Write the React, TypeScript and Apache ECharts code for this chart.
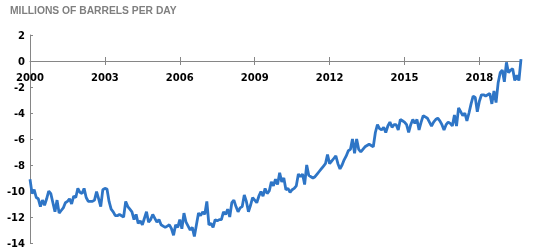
import React, { useEffect, useRef } from "react";
import * as echarts from "echarts";

const title = "MILLIONS OF BARRELS PER DAY";
const startYear = 2000;
const yTicks = { min: -14, max: 2, interval: 2 };

const v2000 = [-9.1, -10.2, -9.9, -10.5, -10.6, -11.2, -10.7, -11.1, -10.6, -10.0, -10.2, -10.9];
const v2001 = [-11.6, -10.7, -11.7, -11.5, -11.3, -10.9, -10.8, -10.6, -11.0, -10.4, -10.5, -9.8];
const v2002 = [-10.1, -10.2, -9.8, -10.5, -10.8, -10.8, -10.8, -10.7, -10.05, -10.6, -11.2, -9.9];
const v2003 = [-9.8, -9.85, -10.8, -11.4, -11.6, -11.9, -11.9, -11.8, -11.9, -12.0, -10.8, -11.2];
const v2004 = [-11.4, -11.6, -12.2, -11.8, -12.5, -12.3, -12.6, -12.1, -11.6, -12.4, -12.2, -11.8];
const v2005 = [-12.1, -12.4, -12.2, -12.6, -12.7, -12.8, -12.7, -12.6, -12.9, -13.4, -12.6, -12.8];
const v2006 = [-12.2, -12.9, -11.7, -12.4, -12.7, -13.0, -12.8, -13.5, -12.6, -11.7, -11.9, -11.6];
const v2007 = [-11.8, -10.8, -12.6, -12.5, -12.8, -12.2, -12.3, -12.2, -12.2, -11.6, -11.8, -11.4];
const v2008 = [-12.0, -10.9, -10.7, -11.2, -11.6, -11.3, -11.2, -10.3, -10.8, -11.6, -11.1, -10.5];
const v2009 = [-10.7, -10.9, -10.4, -10.05, -10.4, -9.8, -10.2, -10.0, -9.3, -9.6, -9.1, -9.5];
const v2010 = [-8.6, -9.3, -9.0, -9.9, -9.8, -10.1, -9.9, -9.8, -9.6, -8.7, -8.9, -8.7];
const v2011 = [-9.5, -8.0, -8.8, -8.9, -9.0, -8.9, -8.7, -8.5, -8.3, -8.1, -7.9, -7.2];
const v2012 = [-7.9, -7.7, -7.5, -7.3, -7.9, -8.3, -8.0, -7.6, -7.3, -6.9, -6.8, -6.0];
const v2013 = [-7.1, -6.0, -6.8, -7.0, -6.8, -6.6, -6.5, -6.4, -6.5, -6.6, -5.5, -4.9];
const v2014 = [-5.2, -5.3, -5.1, -5.5, -5.0, -4.7, -5.1, -4.9, -4.9, -5.3, -4.5, -4.6];
const v2015 = [-4.7, -4.9, -5.5, -4.9, -4.5, -4.8, -4.5, -5.3, -4.7, -4.2, -4.3, -4.4];
const v2016 = [-4.7, -5.0, -4.7, -4.5, -4.4, -4.6, -4.9, -5.3, -4.9, -4.7, -4.8, -5.0];
const v2017 = [-4.15, -5.0, -3.6, -3.9, -4.2, -4.0, -4.6, -4.0, -3.3, -2.7, -2.8, -3.9];
const v2018 = [-3.1, -2.6, -2.6, -2.7, -2.6, -2.5, -3.3, -2.3, -3.2, -1.7, -0.9, -0.7];
const v2019 = [-1.6, -0.1, -0.9, -0.7, -0.6, -1.5, -1.1, -1.5, 0.15];

const values = [
  ...v2000, ...v2001, ...v2002, ...v2003, ...v2004, ...v2005, ...v2006,
  ...v2007, ...v2008, ...v2009, ...v2010, ...v2011, ...v2012, ...v2013,
  ...v2014, ...v2015, ...v2016, ...v2017, ...v2018, ...v2019,
];

const months = values.map((_, i) => {
  const y = startYear + Math.floor(i / 12);
  const m = (i % 12) + 1;
  return `${y}-${m < 10 ? "0" + m : m}`;
});

export default function App() {
  const ref = useRef<HTMLDivElement>(null);
  useEffect(() => {
    if (!ref.current) return;
    const chart = echarts.init(ref.current, undefined, { renderer: "svg" });
    const labelFont = {
      fontFamily: "DejaVu Sans",
      fontWeight: "bold" as const,
      fontSize: 10,
      color: "#000",
    };
    const gridTop = 35;
    const gridBottom = 8;
    const plotH = 251 - gridTop - gridBottom;
    const zeroOffset = -(plotH * (0 - yTicks.min)) / (yTicks.max - yTicks.min);
    const tickStyle = { color: "#868686" };
    chart.setOption({
      animation: false,
      grid: { left: 30, right: 19, top: gridTop, bottom: gridBottom, containLabel: false },
      graphic: [
        {
          type: "text",
          left: 10,
          top: 5,
          style: {
            text: title,
            fontFamily: "Liberation Sans",
            fontWeight: "bold",
            fontSize: 10.3,
            fill: "#7f7f7f",
          },
        },
      ],
      xAxis: [
        {
          type: "category",
          data: months,
          boundaryGap: false,
          position: "bottom",
          offset: zeroOffset,
          axisLine: { onZero: false, lineStyle: { color: "#868686", width: 1 } },
          axisTick: { show: true, interval: 35, length: 4, lineStyle: tickStyle },
          axisLabel: {
            interval: 35,
            margin: 11,
            formatter: (v: string) => v.slice(0, 4),
            ...labelFont,
          },
          splitLine: { show: false },
        },
        {
          type: "category",
          data: months,
          boundaryGap: false,
          position: "bottom",
          offset: zeroOffset,
          axisLine: { show: false, onZero: false },
          axisTick: { show: true, inside: true, interval: 35, length: 4, lineStyle: tickStyle },
          axisLabel: { show: false },
          splitLine: { show: false },
        },
      ],
      yAxis: {
        type: "value",
        min: yTicks.min,
        max: yTicks.max,
        interval: yTicks.interval,
        axisLine: { show: true, onZero: false, lineStyle: { color: "#868686", width: 1 } },
        axisTick: { show: true, inside: true, length: 3, lineStyle: tickStyle },
        axisLabel: { margin: 5, ...labelFont },
        splitLine: { show: false },
      },
      series: [
        {
          type: "line",
          data: values,
          xAxisIndex: 0,
          symbol: "none",
          lineStyle: { color: "#2E75C6", width: 2.8 },
        },
      ],
    });
    return () => chart.dispose();
  }, []);
  return (
    <div
      ref={ref}
      style={{ position: "fixed", left: 0, top: 0, width: 540, height: 251 }}
    />
  );
}
